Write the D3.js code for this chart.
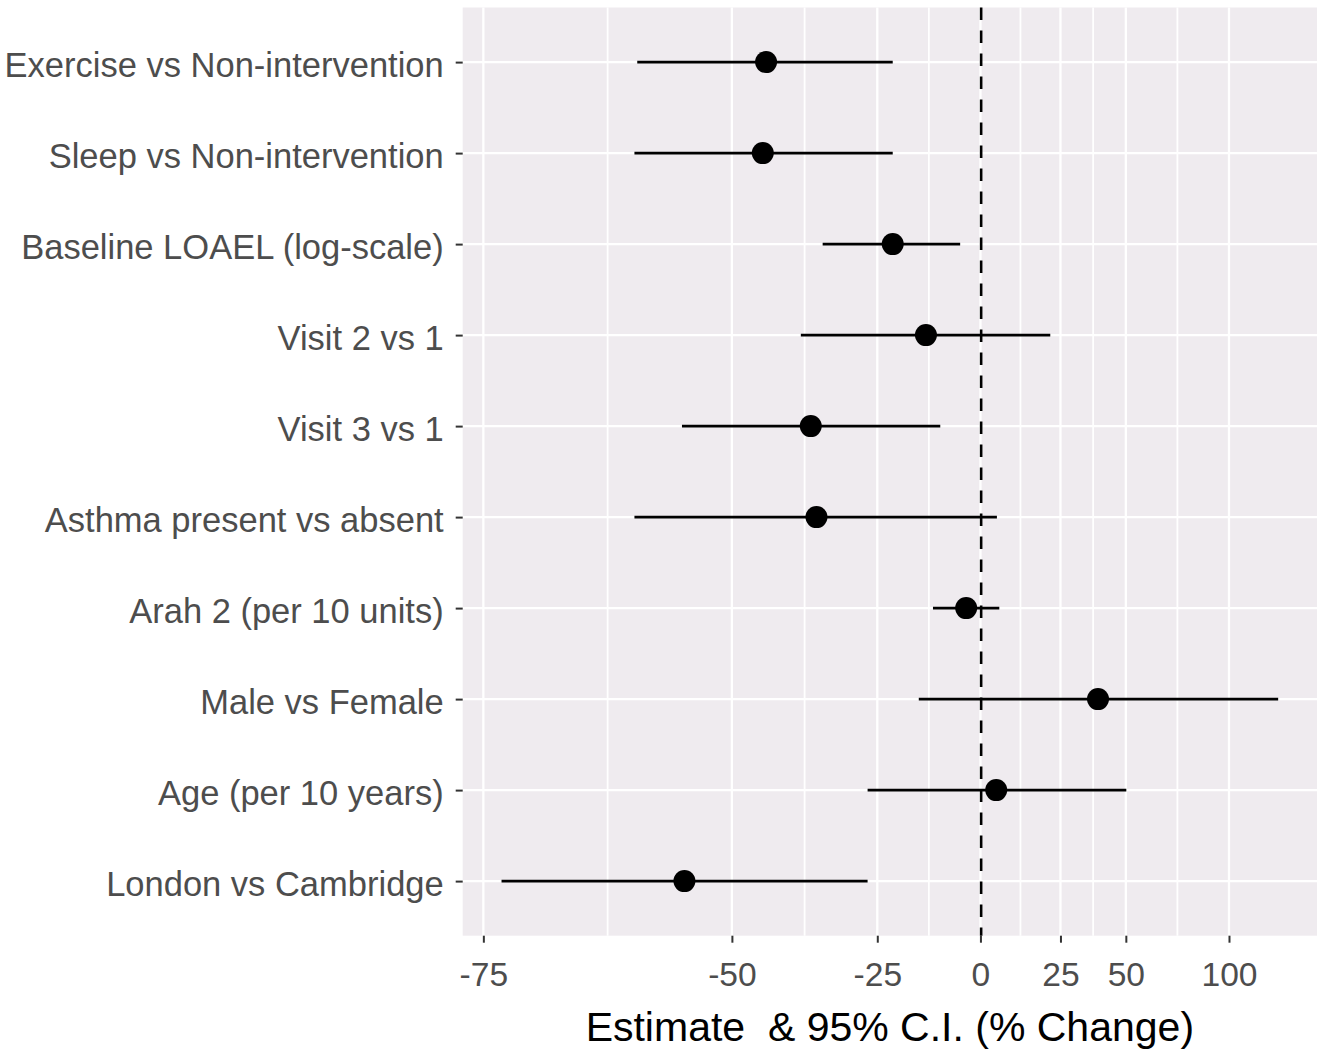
<!DOCTYPE html>
<html>
<head>
<meta charset="utf-8">
<script src="https://cdn.jsdelivr.net/npm/d3@7"></script>
<style>
  html, body { margin: 0; padding: 0; background: #ffffff; }
  svg { display: block; }
  text { font-family: "Liberation Sans", Arial, sans-serif; }
</style>
</head>
<body>
<script>
// ---- Data (percent change, estimate with 95% CI) ----
const categories = [
  "Exercise vs Non-intervention",
  "Sleep vs Non-intervention",
  "Baseline LOAEL (log-scale)",
  "Visit 2 vs 1",
  "Visit 3 vs 1",
  "Asthma present vs absent",
  "Arah 2 (per 10 units)",
  "Male vs Female",
  "Age (per 10 years)",
  "London vs Cambridge"
];
const estimates = [-45.0, -45.5, -21.7, -14.1, -37.7, -36.7, -3.9, 38.8, 4.5, -56.2];
const lowerCI   = [-61.6, -61.9, -35.6, -39.4, -56.5, -61.9, -12.4, -15.8, -27.0, -73.7];
const upperCI   = [-21.7, -21.7, -5.5, 21.5, -10.6, 4.7, 5.4, 129.4, 50.2, -27.0];
const tickValues = [-75, -50, -25, 0, 25, 50, 100];
const tickLabels = ["-75", "-50", "-25", "0", "25", "50", "100"];
const xTitle = "Estimate\u00a0 & 95% C.I. (% Change)";

const rows = categories.map((c, i) => ({
  cat: c, est: estimates[i], lo: lowerCI[i], hi: upperCI[i]
}));

// ---- Layout ----
const W = 1323, H = 1050;
const panel = { left: 462.7, right: 1317, top: 7.5, bottom: 935.7 };

const svg = d3.select("body").append("svg")
  .attr("width", W).attr("height", H);

// log scale on ratio (1 + pct/100), with 5% expansion like ggplot
const toRatio = p => 1 + p / 100;
const lmin = Math.log(toRatio(d3.min(lowerCI)));
const lmax = Math.log(toRatio(d3.max(upperCI)));
const pad = 0.05 * (lmax - lmin);
const x = d3.scaleLog()
  .domain([Math.exp(lmin - pad), Math.exp(lmax + pad)])
  .range([panel.left, panel.right]);
const xp = p => x(toRatio(p));

const y = d3.scalePoint()
  .domain(categories)
  .range([panel.top, panel.bottom])
  .padding(0.6);

// panel background
svg.append("rect")
  .attr("x", panel.left).attr("y", panel.top)
  .attr("width", panel.right - panel.left)
  .attr("height", panel.bottom - panel.top)
  .attr("fill", "#efebef");

// minor gridlines (midpoints in log space)
const logTicks = tickValues.map(v => Math.log(toRatio(v)));
const minor = [];
for (let i = 0; i < logTicks.length - 1; i++) {
  minor.push(Math.exp((logTicks[i] + logTicks[i + 1]) / 2));
}
const grid = svg.append("g");
grid.selectAll("line.minor").data(minor).join("line")
  .attr("class", "minor")
  .attr("x1", d => x(d)).attr("x2", d => x(d))
  .attr("y1", panel.top).attr("y2", panel.bottom)
  .attr("stroke", "#ffffff").attr("stroke-width", 1.8);
grid.selectAll("line.majorx").data(tickValues).join("line")
  .attr("class", "majorx")
  .attr("x1", d => xp(d)).attr("x2", d => xp(d))
  .attr("y1", panel.top).attr("y2", panel.bottom)
  .attr("stroke", "#ffffff").attr("stroke-width", 2.3);
grid.selectAll("line.majory").data(categories).join("line")
  .attr("class", "majory")
  .attr("x1", panel.left).attr("x2", panel.right)
  .attr("y1", d => y(d)).attr("y2", d => y(d))
  .attr("stroke", "#ffffff").attr("stroke-width", 2.3);

// reference dashed line at 0
svg.append("line")
  .attr("x1", xp(0) + 0.7).attr("x2", xp(0) + 0.7)
  .attr("y1", panel.top).attr("y2", panel.bottom)
  .attr("stroke", "#000").attr("stroke-width", 2.6)
  .attr("stroke-dasharray", "12.5,10.5");

// error bars
svg.append("g").selectAll("line").data(rows).join("line")
  .attr("x1", d => xp(d.lo)).attr("x2", d => xp(d.hi))
  .attr("y1", d => y(d.cat)).attr("y2", d => y(d.cat))
  .attr("stroke", "#000").attr("stroke-width", 2.7);

// points
svg.append("g").selectAll("circle").data(rows).join("circle")
  .attr("cx", d => xp(d.est)).attr("cy", d => y(d.cat))
  .attr("r", 11).attr("fill", "#000");

// x axis
const xAxis = d3.axisBottom(x)
  .tickValues(tickValues.map(toRatio))
  .tickFormat((d, i) => tickLabels[i])
  .tickSize(7).tickPadding(0);
const gx = svg.append("g")
  .attr("transform", `translate(0,${panel.bottom})`)
  .call(xAxis);
gx.select(".domain").remove();
gx.selectAll(".tick line").attr("stroke", "#333333").attr("stroke-width", 2);
gx.selectAll(".tick text")
  .attr("fill", "#4d4d4d").attr("font-size", "33.6px")
  .attr("dy", null).attr("y", 50);

// y axis
const yAxis = d3.axisLeft(y).tickSize(7).tickPadding(12);
const gy = svg.append("g")
  .attr("transform", `translate(${panel.left},0)`)
  .call(yAxis);
gy.select(".domain").remove();
gy.selectAll(".tick line").attr("stroke", "#333333").attr("stroke-width", 2);
gy.selectAll(".tick text")
  .attr("fill", "#4d4d4d").attr("font-size", "34.5px")
  .attr("dy", null).attr("y", 14);

// x title
svg.append("text")
  .attr("x", (panel.left + panel.right) / 2)
  .attr("y", 1041)
  .attr("text-anchor", "middle")
  .attr("font-size", "41px")
  .attr("fill", "#000")
  .text(xTitle);
</script>
</body>
</html>
